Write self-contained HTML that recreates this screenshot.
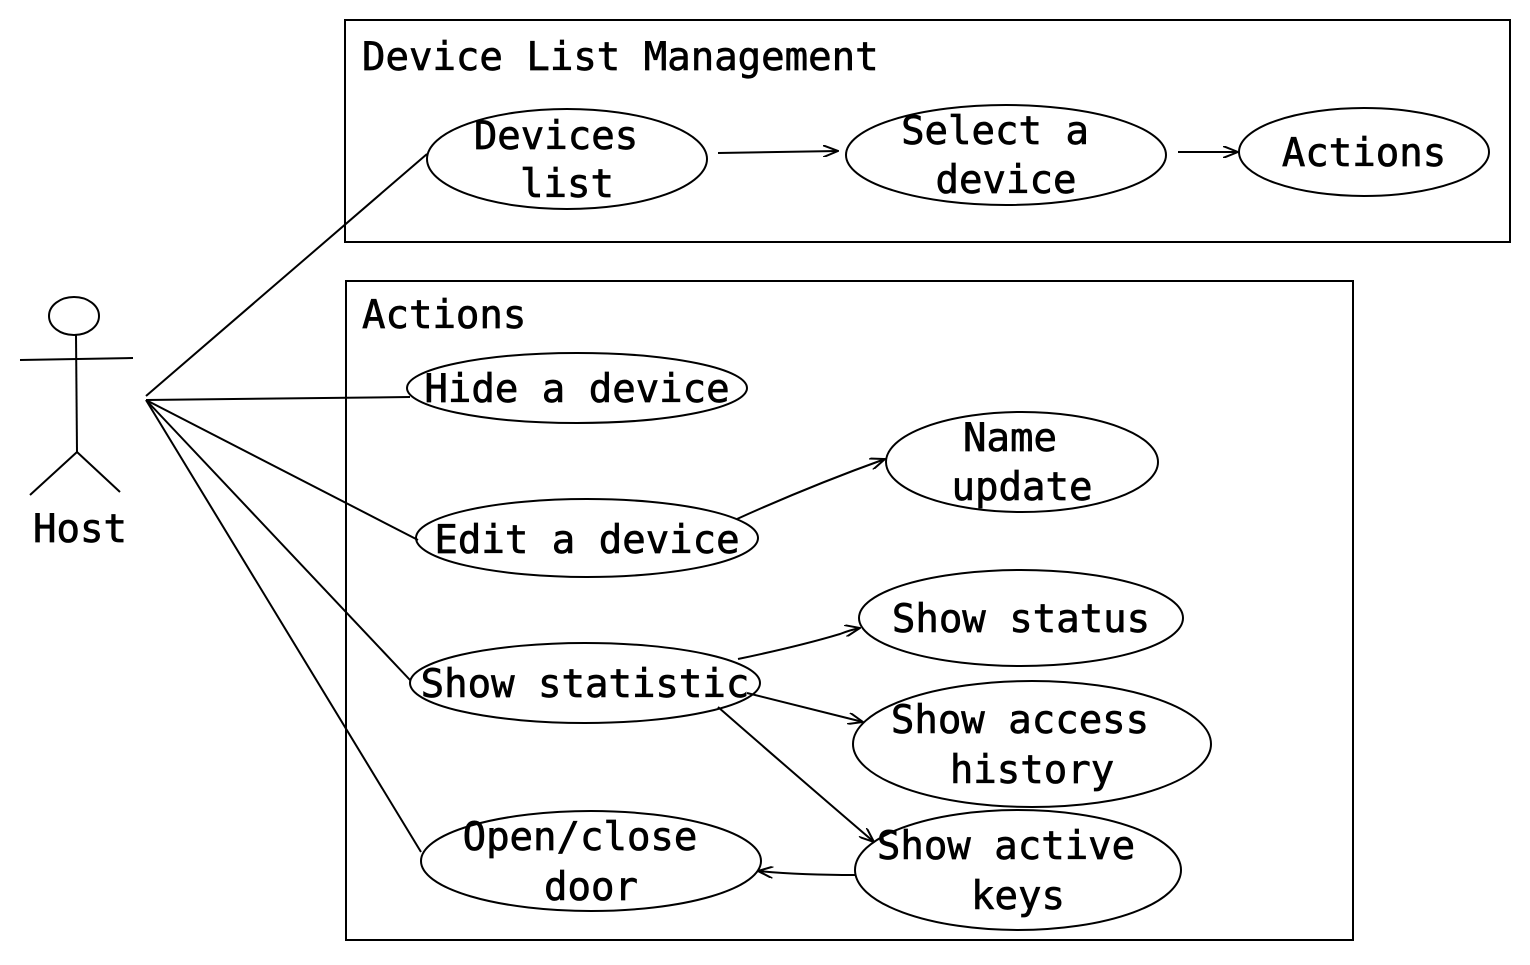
<!DOCTYPE html>
<html><head><meta charset="utf-8"><style>
html,body{margin:0;padding:0;background:#fff;}
svg text{font-family:"DejaVu Sans Mono","Liberation Mono",monospace;font-size:39px;fill:#000;stroke:#000;stroke-width:0.7;text-anchor:middle;}
</style></head><body>
<svg width="1530" height="960" viewBox="0 0 1530 960" xmlns="http://www.w3.org/2000/svg">
<defs><marker id="a" markerWidth="16" markerHeight="12" refX="15" refY="6" orient="auto" markerUnits="userSpaceOnUse"><path d="M0,0 L15,6 L0,12" fill="none" stroke="#000" stroke-width="2"/></marker></defs>
<g fill="none" stroke="#000" stroke-width="2">
<rect x="345" y="20" width="1165" height="222"/>
<rect x="346" y="281" width="1007" height="659"/>
<ellipse cx="567" cy="159" rx="140" ry="50"/>
<ellipse cx="1006" cy="155" rx="160" ry="50"/>
<ellipse cx="1364" cy="152" rx="125" ry="44"/>
<ellipse cx="577" cy="388" rx="170" ry="35"/>
<ellipse cx="1022" cy="462" rx="136" ry="50"/>
<ellipse cx="587" cy="538" rx="171" ry="39"/>
<ellipse cx="1021" cy="618" rx="162" ry="48"/>
<ellipse cx="585" cy="683" rx="175" ry="40"/>
<ellipse cx="1032" cy="744" rx="179" ry="63"/>
<ellipse cx="591" cy="861" rx="170" ry="50"/>
<ellipse cx="1018" cy="870" rx="163" ry="60"/>
<ellipse cx="74" cy="316" rx="25" ry="19"/>
<line x1="20" y1="360" x2="133" y2="358"/>
<line x1="76" y1="335" x2="77" y2="452"/>
<line x1="77" y1="452" x2="30" y2="495"/>
<line x1="77" y1="452" x2="120" y2="492"/>
<line x1="146" y1="396" x2="427" y2="154"/>
<line x1="146" y1="400" x2="410" y2="397"/>
<line x1="146" y1="400" x2="418" y2="540"/>
<line x1="146" y1="400" x2="410" y2="680"/>
<line x1="146" y1="400" x2="421" y2="852"/>
<line x1="718" y1="153" x2="838" y2="151" marker-end="url(#a)"/>
<line x1="1178" y1="152" x2="1238" y2="152" marker-end="url(#a)"/>
<path d="M737,519 Q810,486 885,459" marker-end="url(#a)"/>
<path d="M738,659 Q800,646 840,634 Q850,630 860,628" marker-end="url(#a)"/>
<line x1="747" y1="693" x2="863" y2="722" marker-end="url(#a)"/>
<path d="M718,707 Q790,770 874,842" marker-end="url(#a)"/>
<path d="M855,875 Q800,875 758,871" marker-end="url(#a)"/>
</g>
<text x="362" y="70" style="text-anchor:start">Device List Management</text>
<text x="362" y="328" style="text-anchor:start">Actions</text>
<text x="556" y="149">Devices</text>
<text x="567" y="197">list</text>
<text x="995" y="144">Select a</text>
<text x="1006" y="193">device</text>
<text x="1364" y="166">Actions</text>
<text x="577" y="402">Hide a device</text>
<text x="1010" y="451">Name</text>
<text x="1022" y="500">update</text>
<text x="587" y="553">Edit a device</text>
<text x="1021" y="632">Show status</text>
<text x="585" y="697">Show statistic</text>
<text x="1020" y="733">Show access</text>
<text x="1032" y="783">history</text>
<text x="580" y="850">Open/close</text>
<text x="591" y="900">door</text>
<text x="1006" y="859">Show active</text>
<text x="1018" y="909">keys</text>
<text x="80" y="542">Host</text>
</svg>
</body></html>
